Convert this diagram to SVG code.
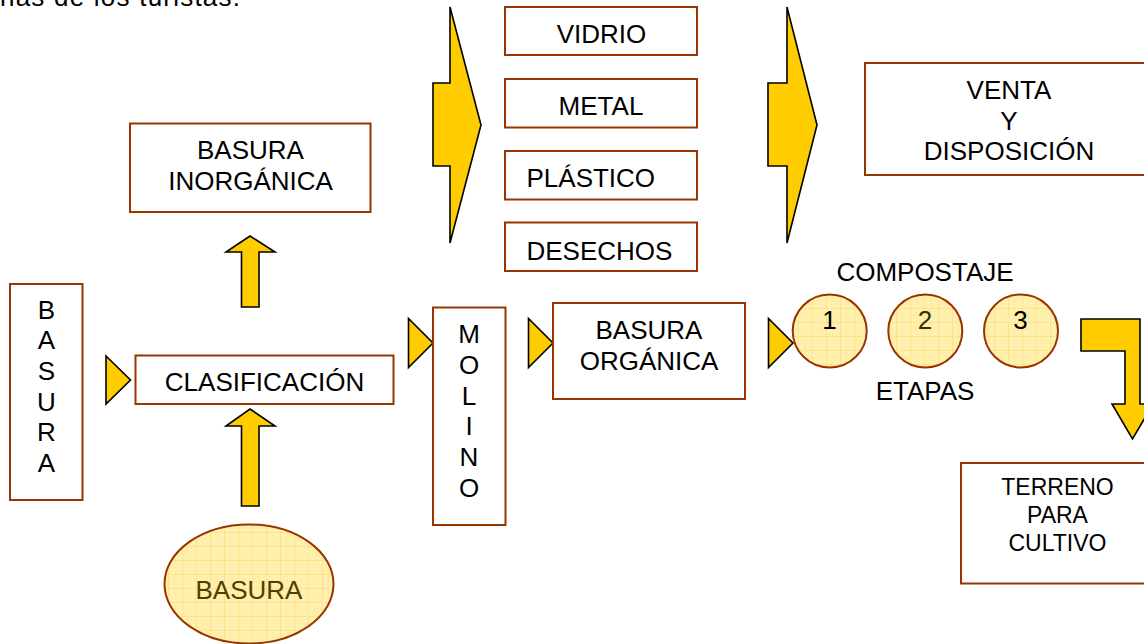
<svg xmlns="http://www.w3.org/2000/svg" width="1144" height="644" viewBox="0 0 1144 644">
<style>
text{font-family:"Liberation Sans",Arial,sans-serif;font-size:26px;fill:#000;}
.c{text-anchor:middle;}
.box{fill:#fff;stroke:#993300;stroke-width:2;}
.arr{fill:#FFCC00;stroke:#000;stroke-width:1.6;stroke-linejoin:miter;}
.blob{fill:url(#grid);stroke:#993300;stroke-width:2;}
.sm{font-size:23px;}
</style>
<defs>
<pattern id="grid" patternUnits="userSpaceOnUse" width="14" height="14">
<rect width="14" height="14" fill="#FFF0B0"/>
<path d="M7 0V14M0 7H14" stroke="#FFE89A" stroke-width="0.8" fill="none"/>
<path d="M0 0V14M0 0H14" stroke="#FFD966" stroke-width="1" fill="none"/>
</pattern>
</defs>
<rect width="1144" height="644" fill="#fff"/>
<text x="0" y="5.5" textLength="240" lengthAdjust="spacing">nas de los turistas.</text>

<g id="connectors">
<polygon class="arr" points="450,7 481,125 450,243 450,166 433,166 433,83 450,83"/>
<polygon class="arr" points="787,7 817,125 787,243 787,166 768,166 768,83 787,83"/>
<polygon class="arr" points="250,236 275,252 259,252 259,307 241.5,307 241.5,252 226,252"/>
<polygon class="arr" points="250,409 275,426 259,426 259,506 241.5,506 241.5,426 226,426"/>
<polygon class="arr" points="106,356 130.5,380 106,404"/>
<polygon class="arr" points="408.5,318.5 433,343 408.5,367.5"/>
<polygon class="arr" points="528.5,318.5 553,343 528.5,367.5"/>
<polygon class="arr" points="768.5,318.5 793,343 768.5,367.5"/>
<polygon class="arr" points="1081,319 1140,319 1140,404 1153,404 1132.5,439 1112,404 1125,404 1125,351 1081,351"/>
</g>

<g id="basura-vertical">
<rect class="box" x="10" y="284" width="72.5" height="216"/>
<text class="c" x="46.5" y="318.5">B</text>
<text class="c" x="46.5" y="349">A</text>
<text class="c" x="46.5" y="380">S</text>
<text class="c" x="46.5" y="410.5">U</text>
<text class="c" x="46.5" y="441">R</text>
<text class="c" x="46.5" y="471.5">A</text>
</g>

<g id="clasificacion">
<rect class="box" x="135.5" y="355.5" width="258" height="48.5"/>
<text class="c" x="264.5" y="390.5">CLASIFICACIÓN</text>
</g>

<g id="basura-inorganica">
<rect class="box" x="130" y="123.5" width="240.5" height="88.5"/>
<text class="c" x="250.5" y="158.5">BASURA</text>
<text class="c" x="250.5" y="190">INORGÁNICA</text>
</g>

<g id="basura-ellipse">
<ellipse class="blob" cx="249" cy="584" rx="84.5" ry="59.5"/>
<text class="c" x="249" y="599" style="fill:#4D4000">BASURA</text>
</g>

<g id="molino">
<rect class="box" x="433" y="307.5" width="72.5" height="217.5"/>
<text class="c" x="469" y="342.5">M</text>
<text class="c" x="469" y="374">O</text>
<text class="c" x="469" y="405">L</text>
<text class="c" x="469" y="435">I</text>
<text class="c" x="469" y="466">N</text>
<text class="c" x="469" y="496.5">O</text>
</g>

<g id="basura-organica">
<rect class="box" x="553" y="303" width="192" height="96"/>
<text class="c" x="649" y="338.5">BASURA</text>
<text class="c" x="649" y="369.5">ORGÁNICA</text>
</g>

<g id="vidrio">
<rect class="box" x="505" y="7" width="192" height="48"/>
<text class="c" x="601.5" y="42.5">VIDRIO</text>
</g>
<g id="metal">
<rect class="box" x="505" y="79" width="192" height="48.5"/>
<text class="c" x="601" y="115">METAL</text>
</g>
<g id="plastico">
<rect class="box" x="505" y="151" width="192" height="48.5"/>
<text x="526.5" y="186.5">PLÁSTICO</text>
</g>
<g id="desechos">
<rect class="box" x="505" y="222.5" width="192" height="48.5"/>
<text x="526.5" y="260">DESECHOS</text>
</g>

<g id="venta">
<rect class="box" x="865" y="63" width="290" height="112"/>
<text class="c" x="1009" y="98.5">VENTA</text>
<text class="c" x="1009" y="129.5">Y</text>
<text class="c" x="1009" y="159.5">DISPOSICIÓN</text>
</g>

<g id="compostaje">
<text class="c" x="925" y="280.5">COMPOSTAJE</text>
<text class="c" x="925" y="400">ETAPAS</text>
</g>
<g id="etapa1">
<ellipse class="blob" cx="829.7" cy="331" rx="37" ry="36.5"/>
<text class="c" x="829.5" y="329">1</text>
</g>
<g id="etapa2">
<ellipse class="blob" cx="925.3" cy="331" rx="37" ry="36.5"/>
<text class="c" x="925" y="329" style="fill:#333300">2</text>
</g>
<g id="etapa3">
<ellipse class="blob" cx="1021" cy="331" rx="37" ry="36.5"/>
<text class="c" x="1020.5" y="329">3</text>
</g>

<g id="terreno">
<rect class="box" x="961" y="463" width="194" height="120.5"/>
<text class="c sm" x="1057.5" y="495">TERRENO</text>
<text class="c sm" x="1057.5" y="523">PARA</text>
<text class="c sm" x="1057.5" y="550.5">CULTIVO</text>
</g>
</svg>
